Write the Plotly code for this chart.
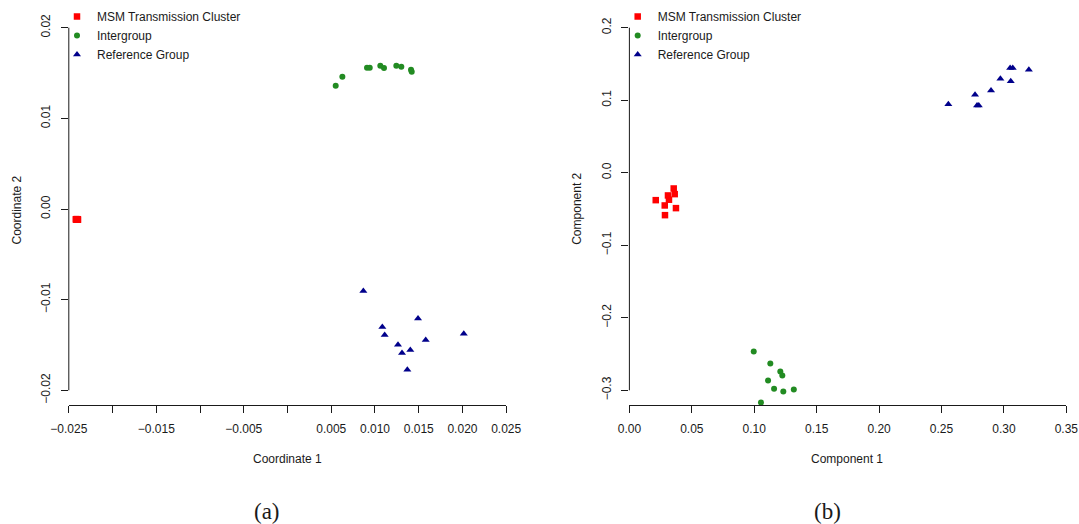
import plotly.graph_objects as go

W, H = 1079, 524

# ---------------- data (a): classical MDS coordinates ----------------
msm_a_x = [-0.02418, -0.02412, -0.02405, -0.02400, -0.02396, -0.02418, -0.02405, -0.02396]
msm_a_y = [-0.00112, -0.00118, -0.00116, -0.00114, -0.00118, -0.00116, -0.00112, -0.00116]

inter_a_x = [0.00551, 0.00627, 0.00909, 0.00940, 0.01061, 0.01103, 0.01244, 0.01301, 0.01412, 0.01420]
inter_a_y = [0.01360, 0.01459, 0.01559, 0.01559, 0.01581, 0.01555, 0.01581, 0.01570, 0.01537, 0.01515]

ref_a_x = [0.00867, 0.01084, 0.01111, 0.01492, 0.01263, 0.01309, 0.01404, 0.01580, 0.01370, 0.02015]
ref_a_y = [-0.00905, -0.01302, -0.01390, -0.01207, -0.01497, -0.01589, -0.01555, -0.01445, -0.01773, -0.01376]

# ---------------- data (b): principal components ----------------
msm_b_x = [0.0355, 0.0363, 0.0309, 0.0317, 0.0211, 0.0283, 0.0373, 0.0285]
msm_b_y = [-0.0217, -0.0295, -0.0313, -0.0372, -0.0378, -0.0451, -0.0488, -0.0585]

inter_b_x = [0.0996, 0.1129, 0.1209, 0.1225, 0.1111, 0.1159, 0.1233, 0.1317, 0.1054]
inter_b_y = [-0.2465, -0.2630, -0.2741, -0.2796, -0.2865, -0.2979, -0.3017, -0.2989, -0.3168]

ref_b_x = [0.2555, 0.2769, 0.2785, 0.2799, 0.2897, 0.2972, 0.3055, 0.3050, 0.3071, 0.3200]
ref_b_y = [0.0946, 0.1076, 0.0928, 0.0928, 0.1135, 0.1297, 0.1263, 0.1443, 0.1443, 0.1421]

group_names = ["MSM Transmission Cluster", "Intergroup", "Reference Group"]

# ticks
a_x_ticks = [-0.025, -0.020, -0.015, -0.010, -0.005, 0.0, 0.005, 0.010, 0.015, 0.020, 0.025]
a_x_text = ["\u22120.025", "", "\u22120.015", "", "\u22120.005", "", "0.005", "0.010", "0.015", "0.020", "0.025"]
a_y_ticks = [-0.02, -0.01, 0.0, 0.01, 0.02]
a_y_text = ["\u22120.02", "\u22120.01", "0.00", "0.01", "0.02"]
b_x_ticks = [0.0, 0.05, 0.10, 0.15, 0.20, 0.25, 0.30, 0.35]
b_x_text = ["0.00", "0.05", "0.10", "0.15", "0.20", "0.25", "0.30", "0.35"]
b_y_ticks = [-0.3, -0.2, -0.1, 0.0, 0.1, 0.2]
b_y_text = ["\u22120.3", "\u22120.2", "\u22120.1", "0.0", "0.1", "0.2"]

# axis limits (R style: y padded 4% beyond the tick range)
a_x_range = [-0.025, 0.025]
a_y_range = [-0.02162, 0.02162]
b_x_range = [0.0, 0.35]
b_y_range = [-0.32027, 0.22027]

# ---------------- style ----------------
COLORS = ["#FF0000", "#228B22", "#00008B"]
SYMBOLS = ["square", "circle", "triangle-up"]
SIZES = [6.5, 6, 7]
FONT = "Liberation Sans, Arial, sans-serif"
AXC = "#1a1a1a"


def px(x):
    return x / W


def py(y):
    return 1 - y / H


fig = go.Figure()

series_a = [(msm_a_x, msm_a_y), (inter_a_x, inter_a_y), (ref_a_x, ref_a_y)]
series_b = [(msm_b_x, msm_b_y), (inter_b_x, inter_b_y), (ref_b_x, ref_b_y)]

for i, (xs, ys) in enumerate(series_a):
    fig.add_trace(go.Scatter(
        x=xs, y=ys, mode="markers", name=group_names[i],
        xaxis="x", yaxis="y", legend="legend", cliponaxis=False,
        marker=dict(color=COLORS[i], symbol=SYMBOLS[i], size=SIZES[i], line=dict(width=0)),
        hoverinfo="x+y+name",
    ))
for i, (xs, ys) in enumerate(series_b):
    fig.add_trace(go.Scatter(
        x=xs, y=ys, mode="markers", name=group_names[i],
        xaxis="x2", yaxis="y2", legend="legend2", cliponaxis=False,
        marker=dict(color=COLORS[i], symbol=SYMBOLS[i], size=SIZES[i], line=dict(width=0)),
        hoverinfo="x+y+name",
    ))

axis_common = dict(
    ticks="outside", ticklen=7, tickwidth=1, tickcolor=AXC,
    showgrid=False, zeroline=False, tickmode="array", automargin=False,
    tickfont=dict(family=FONT, size=12, color=AXC), fixedrange=True,
)

y_dom = [py(405), py(13)]
a_left, a_right = 68.8, 506.2
b_left, b_right = 629.4, 1066.3

fig.update_layout(
    template="none",
    width=W, height=H,
    margin=dict(l=0, r=0, t=0, b=0, pad=0, autoexpand=False),
    paper_bgcolor="white", plot_bgcolor="white",
    xaxis=dict(axis_common, domain=[px(a_left), px(a_right)], range=a_x_range, anchor="y",
               showline=True, linecolor=AXC, linewidth=1,
               tickvals=a_x_ticks, ticktext=a_x_text, ticklabelstandoff=6),
    yaxis=dict(axis_common, domain=y_dom, range=a_y_range, anchor="x", showline=False,
               tickvals=a_y_ticks, ticktext=a_y_text, tickangle=-90, ticklabelstandoff=6),
    xaxis2=dict(axis_common, domain=[px(b_left), px(b_right)], range=b_x_range, anchor="y2",
                showline=True, linecolor=AXC, linewidth=1,
                tickvals=b_x_ticks, ticktext=b_x_text, ticklabelstandoff=6),
    yaxis2=dict(axis_common, domain=y_dom, range=b_y_range, anchor="x2", showline=False,
                tickvals=b_y_ticks, ticktext=b_y_text, tickangle=-90, ticklabelstandoff=6),
    legend=dict(x=px(57), y=py(2), xanchor="left", yanchor="top",
                bgcolor="rgba(0,0,0,0)", borderwidth=0, tracegroupgap=0,
                font=dict(family=FONT, size=12, color=AXC)),
    legend2=dict(x=px(617.7), y=py(2), xanchor="left", yanchor="top",
                 bgcolor="rgba(0,0,0,0)", borderwidth=0, tracegroupgap=0,
                 font=dict(family=FONT, size=12, color=AXC)),
    showlegend=True,
)

# R-style y axis lines: drawn only between first and last tick
fig.add_shape(type="line", xref="x domain", yref="y", x0=0, x1=0,
              y0=min(a_y_ticks), y1=max(a_y_ticks), line=dict(color=AXC, width=1))
fig.add_shape(type="line", xref="x2 domain", yref="y2", x0=0, x1=0,
              y0=min(b_y_ticks), y1=max(b_y_ticks), line=dict(color=AXC, width=1))

annots = [
    ("Coordinate 1", 287.2, 459, 0, FONT, 12),
    ("Coordinate 2", 16.5, 210, -90, FONT, 12),
    ("Component 1", 847, 459, 0, FONT, 12),
    ("Component 2", 576.8, 209, -90, FONT, 12),
    ("(a)", 267.2, 511, 0, "Liberation Serif, Times New Roman, serif", 23),
    ("(b)", 827.7, 511, 0, "Liberation Serif, Times New Roman, serif", 23),
]
for text, ax, ay, ang, fam, sz in annots:
    fig.add_annotation(text=text, x=px(ax), y=py(ay), xref="paper", yref="paper",
                       xanchor="center", yanchor="middle", showarrow=False, textangle=ang,
                       font=dict(family=fam, size=sz, color=AXC))

fig.write_html(
    "out.html",
    config={"displayModeBar": False},
    post_script="document.body.style.margin='0px';document.body.style.padding='0px';"
                "document.body.style.overflow='hidden';",
)
